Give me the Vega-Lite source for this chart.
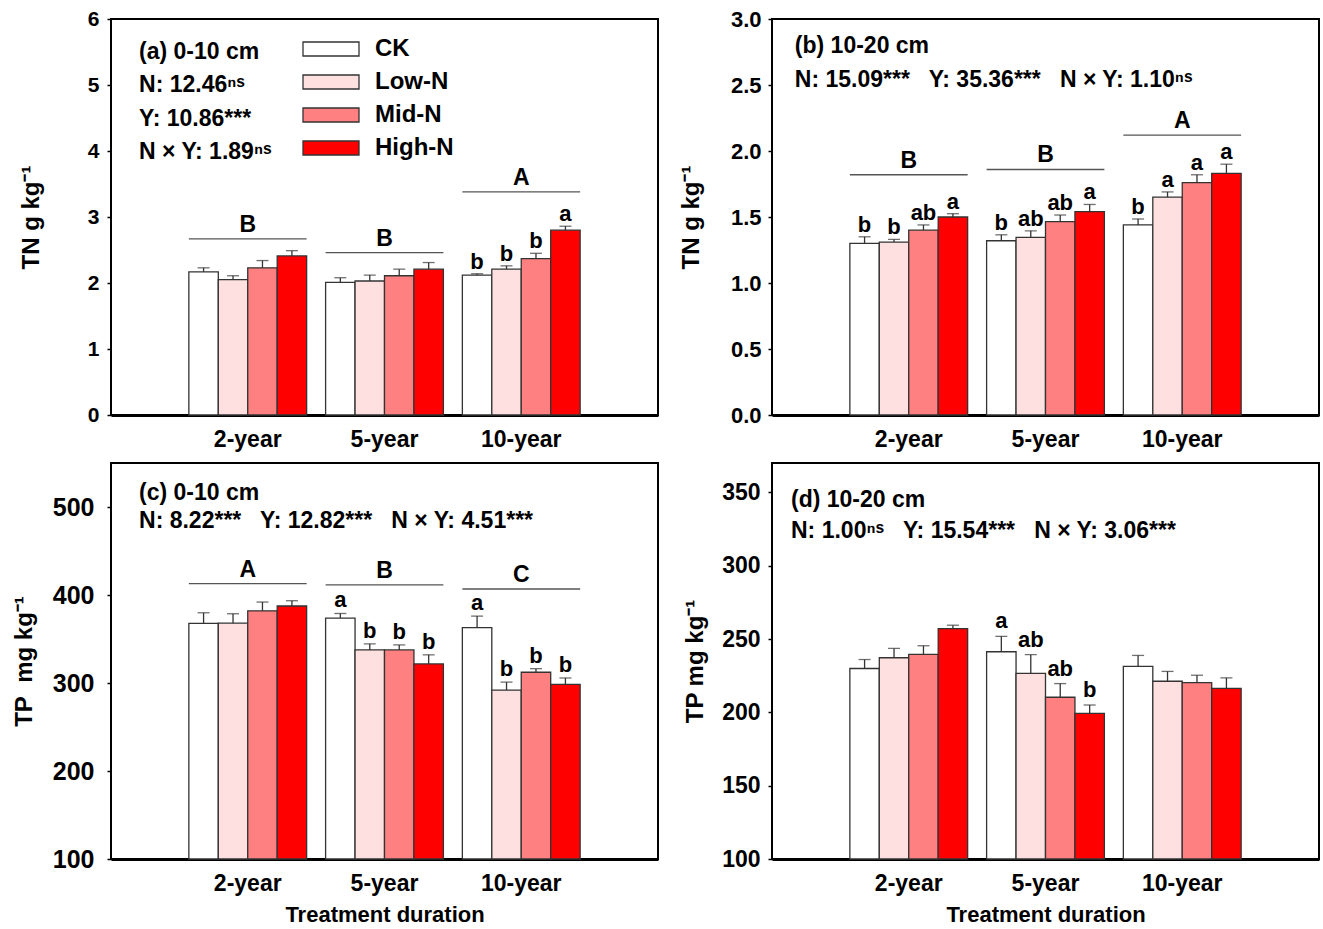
{
  "$schema": "https://vega.github.io/schema/vega-lite/v6.json",
  "background": "white",
  "padding": {"left": 11, "top": 7, "right": 0, "bottom": 0},
  "config": {
    "view": {"stroke": "black", "strokeWidth": 2},
    "axis": {"labelFont": "Liberation Sans", "titleFont": "Liberation Sans", "labelFontWeight": "bold", "titleFontWeight": "bold", "labelColor": "black", "titleColor": "black", "grid": false},
    "text": {"font": "Liberation Sans", "fontWeight": "bold", "color": "black"},
    "legend": {"labelFont": "Liberation Sans", "labelFontWeight": "bold", "labelColor": "black"}
  },
  "datasets": {
    "bars": [
      {"p": "a", "yr": "2-year", "trt": "CK", "m": 2.17, "up": 2.23, "lt": ""},
      {"p": "a", "yr": "2-year", "trt": "Low-N", "m": 2.05, "up": 2.11, "lt": ""},
      {"p": "a", "yr": "2-year", "trt": "Mid-N", "m": 2.23, "up": 2.34, "lt": ""},
      {"p": "a", "yr": "2-year", "trt": "High-N", "m": 2.41, "up": 2.49, "lt": ""},
      {"p": "a", "yr": "5-year", "trt": "CK", "m": 2.01, "up": 2.08, "lt": ""},
      {"p": "a", "yr": "5-year", "trt": "Low-N", "m": 2.03, "up": 2.12, "lt": ""},
      {"p": "a", "yr": "5-year", "trt": "Mid-N", "m": 2.11, "up": 2.21, "lt": ""},
      {"p": "a", "yr": "5-year", "trt": "High-N", "m": 2.21, "up": 2.31, "lt": ""},
      {"p": "a", "yr": "10-year", "trt": "CK", "m": 2.12, "up": 2.14, "lt": "b"},
      {"p": "a", "yr": "10-year", "trt": "Low-N", "m": 2.21, "up": 2.26, "lt": "b"},
      {"p": "a", "yr": "10-year", "trt": "Mid-N", "m": 2.37, "up": 2.45, "lt": "b"},
      {"p": "a", "yr": "10-year", "trt": "High-N", "m": 2.80, "up": 2.86, "lt": "a"},
      {"p": "b", "yr": "2-year", "trt": "CK", "m": 1.30, "up": 1.35, "lt": "b"},
      {"p": "b", "yr": "2-year", "trt": "Low-N", "m": 1.31, "up": 1.33, "lt": "b"},
      {"p": "b", "yr": "2-year", "trt": "Mid-N", "m": 1.40, "up": 1.44, "lt": "ab"},
      {"p": "b", "yr": "2-year", "trt": "High-N", "m": 1.50, "up": 1.525, "lt": "a"},
      {"p": "b", "yr": "5-year", "trt": "CK", "m": 1.32, "up": 1.365, "lt": "b"},
      {"p": "b", "yr": "5-year", "trt": "Low-N", "m": 1.345, "up": 1.395, "lt": "ab"},
      {"p": "b", "yr": "5-year", "trt": "Mid-N", "m": 1.465, "up": 1.515, "lt": "ab"},
      {"p": "b", "yr": "5-year", "trt": "High-N", "m": 1.54, "up": 1.595, "lt": "a"},
      {"p": "b", "yr": "10-year", "trt": "CK", "m": 1.44, "up": 1.485, "lt": "b"},
      {"p": "b", "yr": "10-year", "trt": "Low-N", "m": 1.65, "up": 1.69, "lt": "a"},
      {"p": "b", "yr": "10-year", "trt": "Mid-N", "m": 1.76, "up": 1.82, "lt": "a"},
      {"p": "b", "yr": "10-year", "trt": "High-N", "m": 1.83, "up": 1.90, "lt": "a"},
      {"p": "c", "yr": "2-year", "trt": "CK", "m": 367.7, "up": 379.8, "lt": ""},
      {"p": "c", "yr": "2-year", "trt": "Low-N", "m": 368.0, "up": 378.7, "lt": ""},
      {"p": "c", "yr": "2-year", "trt": "Mid-N", "m": 382.0, "up": 392.0, "lt": ""},
      {"p": "c", "yr": "2-year", "trt": "High-N", "m": 387.5, "up": 393.5, "lt": ""},
      {"p": "c", "yr": "5-year", "trt": "CK", "m": 373.8, "up": 379.0, "lt": "a"},
      {"p": "c", "yr": "5-year", "trt": "Low-N", "m": 337.6, "up": 344.5, "lt": "b"},
      {"p": "c", "yr": "5-year", "trt": "Mid-N", "m": 337.6, "up": 343.3, "lt": "b"},
      {"p": "c", "yr": "5-year", "trt": "High-N", "m": 321.7, "up": 332.0, "lt": "b"},
      {"p": "c", "yr": "10-year", "trt": "CK", "m": 363.0, "up": 376.0, "lt": "a"},
      {"p": "c", "yr": "10-year", "trt": "Low-N", "m": 292.0, "up": 301.0, "lt": "b"},
      {"p": "c", "yr": "10-year", "trt": "Mid-N", "m": 312.2, "up": 316.3, "lt": "b"},
      {"p": "c", "yr": "10-year", "trt": "High-N", "m": 298.5, "up": 305.7, "lt": "b"},
      {"p": "d", "yr": "2-year", "trt": "CK", "m": 229.9, "up": 236.0, "lt": ""},
      {"p": "d", "yr": "2-year", "trt": "Low-N", "m": 237.2, "up": 243.6, "lt": ""},
      {"p": "d", "yr": "2-year", "trt": "Mid-N", "m": 239.5, "up": 245.4, "lt": ""},
      {"p": "d", "yr": "2-year", "trt": "High-N", "m": 257.1, "up": 259.4, "lt": ""},
      {"p": "d", "yr": "5-year", "trt": "CK", "m": 241.3, "up": 251.8, "lt": "a"},
      {"p": "d", "yr": "5-year", "trt": "Low-N", "m": 226.5, "up": 239.3, "lt": "ab"},
      {"p": "d", "yr": "5-year", "trt": "Mid-N", "m": 210.3, "up": 219.6, "lt": "ab"},
      {"p": "d", "yr": "5-year", "trt": "High-N", "m": 199.3, "up": 205.0, "lt": "b"},
      {"p": "d", "yr": "10-year", "trt": "CK", "m": 231.3, "up": 238.8, "lt": ""},
      {"p": "d", "yr": "10-year", "trt": "Low-N", "m": 221.2, "up": 227.9, "lt": ""},
      {"p": "d", "yr": "10-year", "trt": "Mid-N", "m": 220.3, "up": 225.3, "lt": ""},
      {"p": "d", "yr": "10-year", "trt": "High-N", "m": 216.4, "up": 223.5, "lt": ""}
    ],
    "groups": [
      {"p": "a", "yr": "2-year", "ly": 2.67, "g": "B"},
      {"p": "a", "yr": "5-year", "ly": 2.46, "g": "B"},
      {"p": "a", "yr": "10-year", "ly": 3.38, "g": "A"},
      {"p": "b", "yr": "2-year", "ly": 1.82, "g": "B"},
      {"p": "b", "yr": "5-year", "ly": 1.86, "g": "B"},
      {"p": "b", "yr": "10-year", "ly": 2.12, "g": "A"},
      {"p": "c", "yr": "2-year", "ly": 412.9, "g": "A"},
      {"p": "c", "yr": "5-year", "ly": 411.4, "g": "B"},
      {"p": "c", "yr": "10-year", "ly": 406.8, "g": "C"}
    ]
  },
  "resolve": {"legend": {"color": "independent"}},
  "bounds": "flush",
  "columns": 2,
  "spacing": {"row": 48, "column": 114},
  "concat": [
    {
      "width": 547, "height": 396,
      "layer": [
        {
          "data": {"name": "bars"},
          "transform": [{"filter": "datum.p == 'a'"}],
          "layer": [
            {
              "mark": {"type": "bar", "stroke": "#333333", "strokeWidth": 1.3},
              "encoding": {
                "x": {"field": "yr", "type": "nominal", "scale": {"domain": ["2-year", "5-year", "10-year"], "paddingInner": 0.1387, "paddingOuter": 0.5693}, "axis": {"title": null, "labelAngle": 0, "ticks": false, "domain": true, "domainWidth": 3, "domainColor": "black", "labelFontSize": 23, "labelPadding": 13}},
                "xOffset": {"field": "trt", "type": "nominal", "scale": {"domain": ["CK", "Low-N", "Mid-N", "High-N"], "paddingInner": 0, "paddingOuter": 0}},
                "y": {"field": "m", "type": "quantitative", "scale": {"domain": [0, 6], "nice": false}, "axis": {"values": [0, 1, 2, 3, 4, 5, 6], "format": "d", "title": "TN g kg⁻¹", "titleFontSize": 24, "titleX": -68, "labelFontSize": 21, "domain": false, "tickSize": 4, "tickWidth": 1.5, "tickColor": "black", "labelPadding": 8}},
                "color": {"field": "trt", "type": "nominal", "scale": {"domain": ["CK", "Low-N", "Mid-N", "High-N"], "range": ["#FFFFFF", "#FFE0E0", "#FF8080", "#FF0000"]}, "legend": {"orient": "none", "legendX": 205, "legendY": 15, "title": null, "padding": 0, "symbolType": "M-2,-0.5H2V0.5H-2Z", "symbolSize": 784, "symbolStrokeColor": "#333333", "symbolStrokeWidth": 1.3, "labelFontSize": 24, "labelOffset": 29, "rowPadding": 6}}
              }
            },
            {
              "mark": {"type": "rule", "color": "#333333", "strokeWidth": 1.3},
              "encoding": {"x": {"field": "yr", "type": "nominal"}, "xOffset": {"field": "trt", "type": "nominal"}, "y": {"field": "m", "type": "quantitative"}, "y2": {"field": "up"}}
            },
            {
              "mark": {"type": "tick", "orient": "horizontal", "size": 12, "thickness": 1.3, "color": "#333333"},
              "encoding": {"x": {"field": "yr", "type": "nominal"}, "xOffset": {"field": "trt", "type": "nominal"}, "y": {"field": "up", "type": "quantitative"}}
            },
            {
              "mark": {"type": "text", "baseline": "alphabetic", "dy": -5, "fontSize": 22},
              "encoding": {"x": {"field": "yr", "type": "nominal"}, "xOffset": {"field": "trt", "type": "nominal"}, "y": {"field": "up", "type": "quantitative"}, "text": {"field": "lt"}}
            },
            {
              "data": {"name": "groups"},
              "transform": [{"filter": "datum.p == 'a'"}],
              "mark": {"type": "bar", "fill": "transparent", "stroke": "#555555", "strokeWidth": 1.3},
              "encoding": {"x": {"field": "yr", "type": "nominal"}, "y": {"field": "ly", "type": "quantitative"}, "y2": {"field": "ly"}}
            },
            {
              "data": {"name": "groups"},
              "transform": [{"filter": "datum.p == 'a'"}],
              "mark": {"type": "text", "baseline": "alphabetic", "dy": -7, "fontSize": 23},
              "encoding": {"x": {"field": "yr", "type": "nominal"}, "y": {"field": "ly", "type": "quantitative"}, "text": {"field": "g"}}
            }
          ]
        },
        {
          "data": {"values": [{}]},
          "mark": {"type": "text", "align": "left", "baseline": "alphabetic", "fontSize": 23, "lineHeight": 33.3, "text": ["(a) 0-10 cm", "N: 12.46ⁿˢ", "Y: 10.86***", "N × Y: 1.89ⁿˢ"]},
          "encoding": {"x": {"datum": 0.205, "type": "quantitative", "scale": {"domain": [0, 4]}, "axis": null}, "y": {"datum": 5.394, "type": "quantitative"}}
        }
      ],
      "resolve": {"scale": {"x": "independent"}}
    },
    {
      "width": 547, "height": 396,
      "layer": [
        {
          "data": {"name": "bars"},
          "transform": [{"filter": "datum.p == 'b'"}],
          "layer": [
            {
              "mark": {"type": "bar", "stroke": "#333333", "strokeWidth": 1.3},
              "encoding": {
                "x": {"field": "yr", "type": "nominal", "scale": {"domain": ["2-year", "5-year", "10-year"], "paddingInner": 0.1387, "paddingOuter": 0.5693}, "axis": {"title": null, "labelAngle": 0, "ticks": false, "domain": true, "domainWidth": 3, "domainColor": "black", "labelFontSize": 23, "labelPadding": 13}},
                "xOffset": {"field": "trt", "type": "nominal", "scale": {"domain": ["CK", "Low-N", "Mid-N", "High-N"], "paddingInner": 0, "paddingOuter": 0}},
                "y": {"field": "m", "type": "quantitative", "scale": {"domain": [0, 3], "nice": false}, "axis": {"values": [0, 0.5, 1, 1.5, 2, 2.5, 3], "format": ".1f", "title": "TN g kg⁻¹", "titleFontSize": 24, "titleX": -69, "labelFontSize": 22, "domain": false, "tickSize": 4, "tickWidth": 1.5, "tickColor": "black", "labelPadding": 7}},
                "color": {"field": "trt", "type": "nominal", "scale": {"domain": ["CK", "Low-N", "Mid-N", "High-N"], "range": ["#FFFFFF", "#FFE0E0", "#FF8080", "#FF0000"]}, "legend": null}
              }
            },
            {
              "mark": {"type": "rule", "color": "#333333", "strokeWidth": 1.3},
              "encoding": {"x": {"field": "yr", "type": "nominal"}, "xOffset": {"field": "trt", "type": "nominal"}, "y": {"field": "m", "type": "quantitative"}, "y2": {"field": "up"}}
            },
            {
              "mark": {"type": "tick", "orient": "horizontal", "size": 12, "thickness": 1.3, "color": "#333333"},
              "encoding": {"x": {"field": "yr", "type": "nominal"}, "xOffset": {"field": "trt", "type": "nominal"}, "y": {"field": "up", "type": "quantitative"}}
            },
            {
              "mark": {"type": "text", "baseline": "alphabetic", "dy": -5, "fontSize": 22},
              "encoding": {"x": {"field": "yr", "type": "nominal"}, "xOffset": {"field": "trt", "type": "nominal"}, "y": {"field": "up", "type": "quantitative"}, "text": {"field": "lt"}}
            },
            {
              "data": {"name": "groups"},
              "transform": [{"filter": "datum.p == 'b'"}],
              "mark": {"type": "bar", "fill": "transparent", "stroke": "#555555", "strokeWidth": 1.3},
              "encoding": {"x": {"field": "yr", "type": "nominal"}, "y": {"field": "ly", "type": "quantitative"}, "y2": {"field": "ly"}}
            },
            {
              "data": {"name": "groups"},
              "transform": [{"filter": "datum.p == 'b'"}],
              "mark": {"type": "text", "baseline": "alphabetic", "dy": -7, "fontSize": 23},
              "encoding": {"x": {"field": "yr", "type": "nominal"}, "y": {"field": "ly", "type": "quantitative"}, "text": {"field": "g"}}
            }
          ]
        },
        {
          "data": {"values": [{}]},
          "mark": {"type": "text", "align": "left", "baseline": "alphabetic", "fontSize": 23, "lineHeight": 34, "text": ["(b) 10-20 cm", "N: 15.09***\u00a0\u00a0 Y: 35.36***\u00a0\u00a0 N × Y: 1.10ⁿˢ"]},
          "encoding": {"x": {"datum": 0.167, "type": "quantitative", "scale": {"domain": [0, 4]}, "axis": null}, "y": {"datum": 2.74, "type": "quantitative"}}
        }
      ],
      "resolve": {"scale": {"x": "independent"}}
    },
    {
      "width": 547, "height": 396,
      "layer": [
        {
          "data": {"name": "bars"},
          "transform": [{"filter": "datum.p == 'c'"}],
          "layer": [
            {
              "mark": {"type": "bar", "stroke": "#333333", "strokeWidth": 1.3},
              "encoding": {
                "x": {"field": "yr", "type": "nominal", "scale": {"domain": ["2-year", "5-year", "10-year"], "paddingInner": 0.1387, "paddingOuter": 0.5693}, "axis": {"title": "Treatment duration", "titleFontSize": 22, "titlePadding": 9, "labelAngle": 0, "ticks": false, "domain": true, "domainWidth": 3, "domainColor": "black", "labelFontSize": 23, "labelPadding": 13}},
                "xOffset": {"field": "trt", "type": "nominal", "scale": {"domain": ["CK", "Low-N", "Mid-N", "High-N"], "paddingInner": 0, "paddingOuter": 0}},
                "y": {"field": "m", "type": "quantitative", "scale": {"domain": [100, 550], "nice": false, "zero": false}, "axis": {"values": [100, 200, 300, 400, 500], "title": "TP\u00a0 mg kg⁻¹", "titleFontSize": 24, "titleX": -75, "labelFontSize": 25, "domain": false, "tickSize": 4, "tickWidth": 1.5, "tickColor": "black", "labelPadding": 13}},
                "y2": {"datum": 100},
                "color": {"field": "trt", "type": "nominal", "scale": {"domain": ["CK", "Low-N", "Mid-N", "High-N"], "range": ["#FFFFFF", "#FFE0E0", "#FF8080", "#FF0000"]}, "legend": null}
              }
            },
            {
              "mark": {"type": "rule", "color": "#333333", "strokeWidth": 1.3},
              "encoding": {"x": {"field": "yr", "type": "nominal"}, "xOffset": {"field": "trt", "type": "nominal"}, "y": {"field": "m", "type": "quantitative"}, "y2": {"field": "up"}}
            },
            {
              "mark": {"type": "tick", "orient": "horizontal", "size": 12, "thickness": 1.3, "color": "#333333"},
              "encoding": {"x": {"field": "yr", "type": "nominal"}, "xOffset": {"field": "trt", "type": "nominal"}, "y": {"field": "up", "type": "quantitative"}}
            },
            {
              "mark": {"type": "text", "baseline": "alphabetic", "dy": -6, "fontSize": 22},
              "encoding": {"x": {"field": "yr", "type": "nominal"}, "xOffset": {"field": "trt", "type": "nominal"}, "y": {"field": "up", "type": "quantitative"}, "text": {"field": "lt"}}
            },
            {
              "data": {"name": "groups"},
              "transform": [{"filter": "datum.p == 'c'"}],
              "mark": {"type": "bar", "fill": "transparent", "stroke": "#555555", "strokeWidth": 1.3},
              "encoding": {"x": {"field": "yr", "type": "nominal"}, "y": {"field": "ly", "type": "quantitative"}, "y2": {"field": "ly"}}
            },
            {
              "data": {"name": "groups"},
              "transform": [{"filter": "datum.p == 'c'"}],
              "mark": {"type": "text", "baseline": "alphabetic", "dy": -7, "fontSize": 23},
              "encoding": {"x": {"field": "yr", "type": "nominal"}, "y": {"field": "ly", "type": "quantitative"}, "text": {"field": "g"}}
            }
          ]
        },
        {
          "data": {"values": [{}]},
          "mark": {"type": "text", "align": "left", "baseline": "alphabetic", "fontSize": 23, "lineHeight": 28.5, "text": ["(c) 0-10 cm", "N: 8.22***\u00a0\u00a0 Y: 12.82***\u00a0\u00a0 N × Y: 4.51***"]},
          "encoding": {"x": {"datum": 0.205, "type": "quantitative", "scale": {"domain": [0, 4]}, "axis": null}, "y": {"datum": 508, "type": "quantitative"}}
        }
      ],
      "resolve": {"scale": {"x": "independent"}}
    },
    {
      "width": 547, "height": 396,
      "layer": [
        {
          "data": {"name": "bars"},
          "transform": [{"filter": "datum.p == 'd'"}],
          "layer": [
            {
              "mark": {"type": "bar", "stroke": "#333333", "strokeWidth": 1.3},
              "encoding": {
                "x": {"field": "yr", "type": "nominal", "scale": {"domain": ["2-year", "5-year", "10-year"], "paddingInner": 0.1387, "paddingOuter": 0.5693}, "axis": {"title": "Treatment duration", "titleFontSize": 22, "titlePadding": 9, "labelAngle": 0, "ticks": false, "domain": true, "domainWidth": 3, "domainColor": "black", "labelFontSize": 23, "labelPadding": 13}},
                "xOffset": {"field": "trt", "type": "nominal", "scale": {"domain": ["CK", "Low-N", "Mid-N", "High-N"], "paddingInner": 0, "paddingOuter": 0}},
                "y": {"field": "m", "type": "quantitative", "scale": {"domain": [100, 370], "nice": false, "zero": false}, "axis": {"values": [100, 150, 200, 250, 300, 350], "title": "TP mg kg⁻¹", "titleFontSize": 24, "titleX": -65, "labelFontSize": 23, "domain": false, "tickSize": 4, "tickWidth": 1.5, "tickColor": "black", "labelPadding": 8}},
                "y2": {"datum": 100},
                "color": {"field": "trt", "type": "nominal", "scale": {"domain": ["CK", "Low-N", "Mid-N", "High-N"], "range": ["#FFFFFF", "#FFE0E0", "#FF8080", "#FF0000"]}, "legend": null}
              }
            },
            {
              "mark": {"type": "rule", "color": "#333333", "strokeWidth": 1.3},
              "encoding": {"x": {"field": "yr", "type": "nominal"}, "xOffset": {"field": "trt", "type": "nominal"}, "y": {"field": "m", "type": "quantitative"}, "y2": {"field": "up"}}
            },
            {
              "mark": {"type": "tick", "orient": "horizontal", "size": 12, "thickness": 1.3, "color": "#333333"},
              "encoding": {"x": {"field": "yr", "type": "nominal"}, "xOffset": {"field": "trt", "type": "nominal"}, "y": {"field": "up", "type": "quantitative"}}
            },
            {
              "mark": {"type": "text", "baseline": "alphabetic", "dy": -8, "fontSize": 22},
              "encoding": {"x": {"field": "yr", "type": "nominal"}, "xOffset": {"field": "trt", "type": "nominal"}, "y": {"field": "up", "type": "quantitative"}, "text": {"field": "lt"}}
            }
          ]
        },
        {
          "data": {"values": [{}]},
          "mark": {"type": "text", "align": "left", "baseline": "alphabetic", "fontSize": 23, "lineHeight": 31.7, "text": ["(d) 10-20 cm", "N: 1.00ⁿˢ\u00a0\u00a0 Y: 15.54***\u00a0\u00a0 N × Y: 3.06***"]},
          "encoding": {"x": {"datum": 0.139, "type": "quantitative", "scale": {"domain": [0, 4]}, "axis": null}, "y": {"datum": 340.2, "type": "quantitative"}}
        }
      ],
      "resolve": {"scale": {"x": "independent"}}
    }
  ]
}
